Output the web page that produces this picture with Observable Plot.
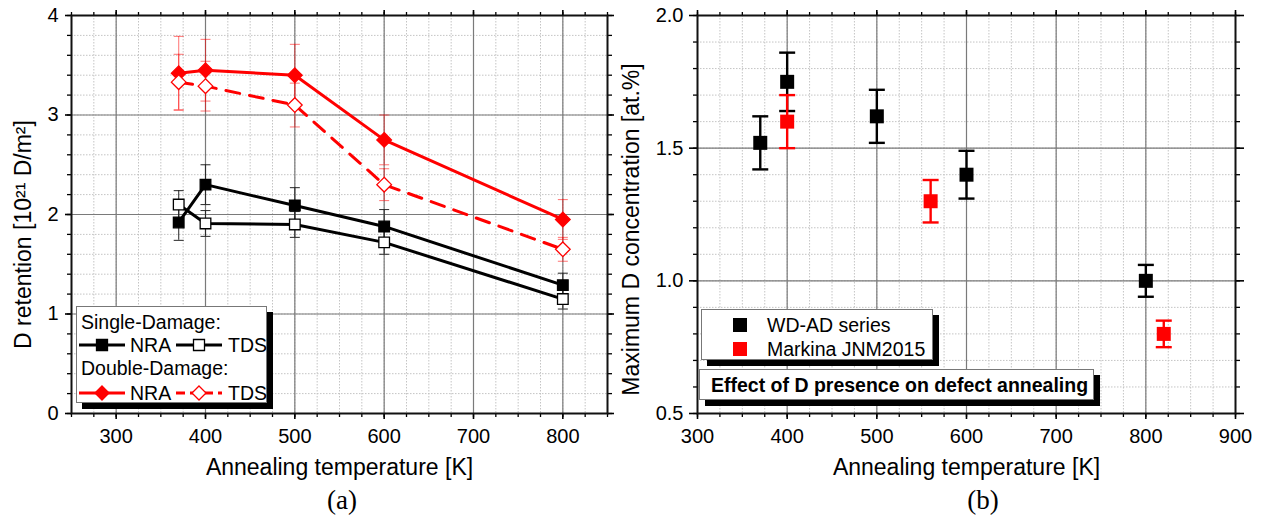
<!DOCTYPE html>
<html><head><meta charset="utf-8">
<script src="https://cdn.jsdelivr.net/npm/d3@7"></script>
<script src="https://cdn.jsdelivr.net/npm/@observablehq/plot@0.6"></script>
<style>
body{margin:0;background:#fff;font-family:"Liberation Sans",Arial,sans-serif;}
#wrap{position:relative;width:1266px;height:523px;overflow:hidden;background:#fff}
.panel{position:absolute;top:0}
.cap{position:absolute;font-family:"Liberation Serif","Times New Roman",serif;font-size:27px;transform:translate(-50%,-50%);white-space:nowrap}
.lg{position:absolute;background:#fff;border:1px solid #777;box-shadow:6px 6px 0 #000;box-sizing:border-box}
.lt{position:absolute;font-size:19.5px;height:22px;line-height:22px;white-space:nowrap;color:#000}
.sw{position:absolute}
</style></head>
<body><div id="wrap">
<div id="pa" class="panel" style="left:0;width:618px;height:523px"></div>
<div id="pb" class="panel" style="left:618px;width:648px;height:523px"></div>
</div>
<script>
// ---------- Panel (a) data ----------
const tempA = [370, 400, 500, 600, 800];
const singleNRA = [1.92, 2.30, 2.09, 1.88, 1.29];
const singleNRAErr = [0.18, 0.20, 0.18, 0.17, 0.12];
const singleTDS = [2.10, 1.91, 1.90, 1.72, 1.15];
const singleTDSErr = [0.14, 0.13, 0.13, 0.12, 0.10];
const doubleNRA = [3.42, 3.45, 3.40, 2.75, 1.95];
const doubleNRAErr = [0.37, 0.31, 0.31, 0.25, 0.20];
const doubleTDS = [3.33, 3.29, 3.10, 2.30, 1.65];
const doubleTDSErr = [0.28, 0.25, 0.22, 0.16, 0.12];
const majorXa = [300, 400, 500, 600, 700, 800];
const minorXa = d3.range(250, 851, 25);
const majorYa = [0, 1, 2, 3, 4];
const minorYa = d3.range(0, 4.01, 0.2);

// ---------- Panel (b) data ----------
const tempB = [370, 400, 500, 600, 800];
const wdad = [1.52, 1.75, 1.62, 1.40, 1.00];
const wdadErr = [0.10, 0.11, 0.10, 0.09, 0.06];
const markinaT = [400, 560, 820];
const markina = [1.60, 1.30, 0.80];
const markinaErr = [0.10, 0.08, 0.05];
const majorXb = [300, 400, 500, 600, 700, 800, 900];
const minorXb = d3.range(300, 901, 25);
const majorYb = [0.5, 1.0, 1.5, 2.0];
const minorYb = d3.range(0.5, 2.001, 0.1);

const FONT = '"Liberation Sans", Arial, sans-serif';
const TICKFONT = 20;
function capSymbol(w){ return {draw(ctx){ ctx.moveTo(-w/2,0); ctx.lineTo(w/2,0); }}; }
const capA = capSymbol(10), capB = capSymbol(16);
const blank = () => "";

function rows(xs, vs, es){ return xs.map((t,i)=>({t, v:vs[i], lo:vs[i]-es[i], hi:vs[i]+es[i]})); }

function gridMarks(minX, minY, gridMajX, gridMajY){
  return [
    Plot.gridX(minX, {stroke:"#c4c4c4", strokeOpacity:1, strokeDasharray:"1.5,1.5"}),
    Plot.gridY(minY, {stroke:"#c4c4c4", strokeOpacity:1, strokeDasharray:"1.5,1.5"}),
    Plot.gridX(gridMajX, {stroke:"#7a7a7a", strokeOpacity:1, strokeWidth:1.2}),
    Plot.gridY(gridMajY, {stroke:"#7a7a7a", strokeOpacity:1, strokeWidth:1.2}),
  ];
}
function axisMarks(majX, minX, majY, minY, tickY, padY, fmtY){
  return [
    Plot.axisX(majX, {anchor:"bottom", tickSize:6, tickPadding:9, label:null, strokeWidth:1.6, fontSize:TICKFONT, tickFormat:d3.format("d")}),
    Plot.axisX(minX, {anchor:"bottom", tickSize:4, tickFormat:blank, label:null, strokeWidth:1.3}),
    Plot.axisX(majX, {anchor:"top", tickSize:6, tickFormat:blank, label:null, strokeWidth:1.6}),
    Plot.axisX(minX, {anchor:"top", tickSize:4, tickFormat:blank, label:null, strokeWidth:1.3}),
    Plot.axisY(majY, {anchor:"left", tickSize:tickY, tickPadding:padY, label:null, strokeWidth:1.6, fontSize:TICKFONT, tickFormat:fmtY}),
    Plot.axisY(minY, {anchor:"left", tickSize:4, tickFormat:blank, label:null, strokeWidth:1.3}),
    Plot.axisY(majY, {anchor:"right", tickSize:tickY, tickFormat:blank, label:null, strokeWidth:1.6}),
    Plot.axisY(minY, {anchor:"right", tickSize:4, tickFormat:blank, label:null, strokeWidth:1.3}),
    Plot.frame({stroke:"#111", strokeWidth:2})
  ];
}

// ---------- Panel (a) ----------
const seriesA = [
  {d: rows(tempA, singleNRA, singleNRAErr), color:"#000", err:"#222", errOp:0.9, symbol:"square", r:6, fill:"#000"},
  {d: rows(tempA, singleTDS, singleTDSErr), color:"#000", err:"#222", errOp:0.9, symbol:"square", r:6, fill:"#fff"},
  {d: rows(tempA, doubleNRA, doubleNRAErr), color:"#ff0000", err:"#ff0000", errOp:0.5, symbol:"diamond2", r:6.6, fill:"#ff0000"},
  {d: rows(tempA, doubleTDS, doubleTDSErr), color:"#ff0000", err:"#ff0000", errOp:0.5, symbol:"diamond2", r:6.6, fill:"#fff", dash:"14,10"}
];
const marksA = [...gridMarks(minorXa, minorYa, majorXa, [1,2,3])];
for (const s of seriesA){
  marksA.push(Plot.ruleX(s.d, {x:"t", y1:"lo", y2:"hi", stroke:s.err, strokeOpacity:s.errOp, strokeWidth:1.1}));
  marksA.push(Plot.dot(s.d, {x:"t", y:"lo", symbol:capA, fill:"none", stroke:s.err, strokeOpacity:s.errOp, strokeWidth:1.1}));
  marksA.push(Plot.dot(s.d, {x:"t", y:"hi", symbol:capA, fill:"none", stroke:s.err, strokeOpacity:s.errOp, strokeWidth:1.1}));
}
for (const s of seriesA){
  marksA.push(Plot.line(s.d, {x:"t", y:"v", stroke:s.color, strokeWidth:3, strokeDasharray:s.dash}));
}
for (const s of seriesA){
  marksA.push(Plot.dot(s.d, {x:"t", y:"v", symbol:s.symbol, r:s.r, fill:s.fill, stroke:s.color, strokeWidth:1.3}));
}
marksA.push(...axisMarks(majorXa, minorXa, majorYa, minorYa, 6, 7, d3.format("d")));
marksA.push(Plot.text(["Annealing temperature [K]"], {frameAnchor:"bottom", dy:61, fontSize:23}));
marksA.push(Plot.text(["D retention [10²¹ D/m²]"], {frameAnchor:"left", textAnchor:"middle", rotate:-90, dx:-48, dy:20, fontSize:23}));

const plotA = Plot.plot({
  width:618, height:482, marginLeft:71, marginRight:11, marginTop:15, marginBottom:69,
  x:{domain:[250,850]}, y:{domain:[0,4]},
  style:{fontFamily:FONT, fontSize:"19px", color:"#000", background:"transparent", overflow:"visible"},
  marks: marksA
});
document.getElementById("pa").append(plotA);

// ---------- Panel (b) ----------
const dW = rows(tempB, wdad, wdadErr), dM = rows(markinaT, markina, markinaErr);
const marksB = [...gridMarks(minorXb, minorYb, [400,500,600,700,800], [1.0,1.5])];
for (const [d, c] of [[dW,"#000"],[dM,"#ff0000"]]){
  marksB.push(Plot.ruleX(d, {x:"t", y1:"lo", y2:"hi", stroke:c, strokeWidth:2.4}));
  marksB.push(Plot.dot(d, {x:"t", y:"lo", symbol:capB, fill:"none", stroke:c, strokeWidth:2.4}));
  marksB.push(Plot.dot(d, {x:"t", y:"hi", symbol:capB, fill:"none", stroke:c, strokeWidth:2.4}));
  marksB.push(Plot.dot(d, {x:"t", y:"v", symbol:"square", r:7.9, fill:c, stroke:"none"}));
}
marksB.push(...axisMarks(majorXb, minorXb, majorYb, minorYb, 8, 6, d3.format(".1f")));
marksB.push(Plot.text(["Annealing temperature [K]"], {frameAnchor:"bottom", dy:61, fontSize:23}));
marksB.push(Plot.text(["Maximum D concentration [at.%]"], {frameAnchor:"left", textAnchor:"middle", rotate:-90, dx:-66, dy:15, fontSize:23}));

const plotB = Plot.plot({
  width:648, height:482, marginLeft:79, marginRight:31, marginTop:15, marginBottom:69,
  x:{domain:[300,900]}, y:{domain:[0.5,2.0]},
  style:{fontFamily:FONT, fontSize:"19px", color:"#000", background:"transparent", overflow:"visible"},
  marks: marksB
});
document.getElementById("pb").append(plotB);

// ---------- captions ----------
const wrap = document.getElementById("wrap");
function el(tag, cls, css, html){ const e=document.createElement(tag); if(cls) e.className=cls; Object.assign(e.style, css); if(html!=null) e.textContent=html; return e; }
wrap.append(el("div","cap",{left:"342px",top:"500px"},"(a)"));
wrap.append(el("div","cap",{left:"983px",top:"500px"},"(b)"));

// ---------- legend helpers ----------
const NS = "http://www.w3.org/2000/svg";
function swatch(color, shape, filled, dash){
  const s = document.createElementNS(NS,"svg");
  s.setAttribute("width",46); s.setAttribute("height",22);
  const ln = document.createElementNS(NS,"line");
  ln.setAttribute("x1",0); ln.setAttribute("x2",46); ln.setAttribute("y1",11); ln.setAttribute("y2",11);
  ln.setAttribute("stroke",color); ln.setAttribute("stroke-width",3);
  if(dash) ln.setAttribute("stroke-dasharray",dash);
  s.append(ln);
  const p = document.createElementNS(NS,"path");
  p.setAttribute("d", shape==="square" ? "M17.5,5.5h11v11h-11z" : "M23,4L30,11L23,18L16,11z");
  p.setAttribute("fill", filled ? color : "#fff"); p.setAttribute("stroke", color); p.setAttribute("stroke-width",1.3);
  s.append(p);
  return s;
}
function sqr(color){
  const s = document.createElementNS(NS,"svg"); s.setAttribute("width",14); s.setAttribute("height",14);
  const r = document.createElementNS(NS,"rect"); r.setAttribute("width",14); r.setAttribute("height",14); r.setAttribute("fill",color);
  s.append(r); return s;
}

// legend (a)
const legA = el("div","lg",{left:"76px",top:"306px",width:"191px",height:"97px"});
const legARows = [
  {label:"Single-Damage:", y:16},
  {items:[["#000","square",true,null,"NRA"],["#000","square",false,null,"TDS"]], y:39},
  {label:"Double-Damage:", y:62},
  {items:[["#ff0000","diamond",true,null,"NRA"],["#ff0000","diamond",false,"9,5","TDS"]], y:87}
];
for (const r of legARows){
  if (r.label){ legA.append(el("div","lt",{left:"4px",top:(r.y-12)+"px"},r.label)); }
  else {
    const [a,b] = r.items;
    const s1 = swatch(a[0],a[1],a[2],a[3]); s1.classList.add("sw"); Object.assign(s1.style,{left:"2px",top:(r.y-12)+"px"});
    const s2 = swatch(b[0],b[1],b[2],b[3]); s2.classList.add("sw"); Object.assign(s2.style,{left:"99px",top:(r.y-12)+"px"});
    legA.append(s1, el("div","lt",{left:"53px",top:(r.y-12)+"px"},a[4]), s2, el("div","lt",{left:"151px",top:(r.y-12)+"px"},b[4]));
  }
}
wrap.append(legA);

// legend (b)
const legB = el("div","lg",{left:"701px",top:"309px",width:"232px",height:"51px"});
[["#000","WD-AD series",16],["#ff0000","Markina JNM2015",40]].forEach(([c,t,y])=>{
  const q = sqr(c); q.classList.add("sw"); Object.assign(q.style,{left:"31px",top:(y-8)+"px"});
  legB.append(q, el("div","lt",{left:"65px",top:(y-12)+"px"},t));
});
wrap.append(legB);
const legC = el("div","lg",{left:"699px",top:"369px",width:"395px",height:"31px"});
legC.append(el("div","lt",{left:"11px",top:"4px",fontWeight:"bold"},"Effect of D presence on defect annealing"));
wrap.append(legC);
</script>
</body></html>
